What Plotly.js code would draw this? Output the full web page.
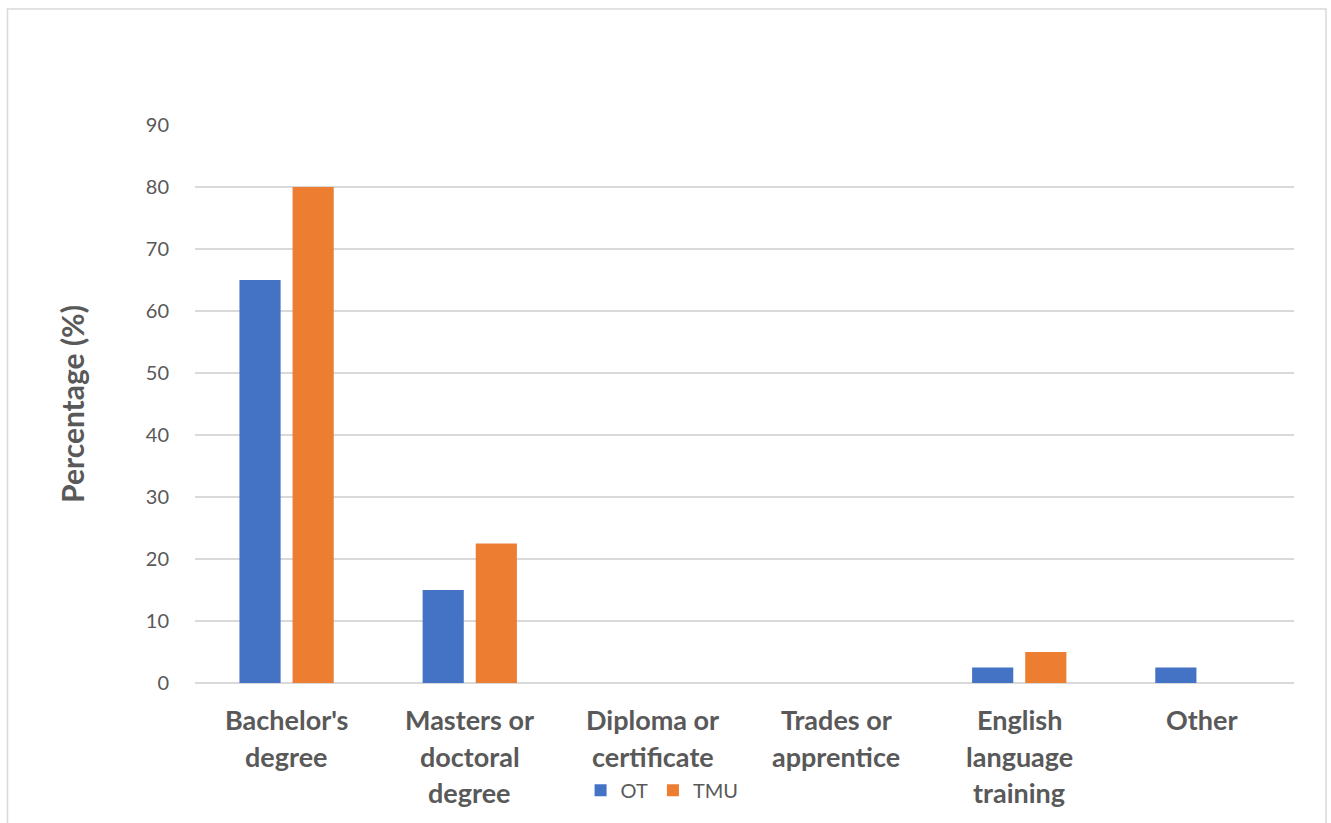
<!DOCTYPE html>
<html>
<head>
<meta charset="utf-8">
<script src="https://cdn.plot.ly/plotly-3.0.1.min.js"></script>
<style>
  html, body { margin: 0; padding: 0; background: #ffffff; }
  #chart { width: 1331px; height: 823px; }
</style>
</head>
<body>
<div id="chart"></div>
<script>
// Education categories (one entry per bar group) and the wrapped label lines
const categories = [
  "Bachelor's degree",
  "Masters or doctoral degree",
  "Diploma or certificate",
  "Trades or apprentice",
  "English language training",
  "Other"
];
const labelLines = [
  ["Bachelor's", "degree"],
  ["Masters or", "doctoral", "degree"],
  ["Diploma or", "certificate"],
  ["Trades or", "apprentice"],
  ["English", "language", "training"],
  ["Other"]
];

// Percentages per group
const otValues  = [65, 15, 0, 0, 2.5, 2.5];
const tmuValues = [80, 22.5, 0, 0, 5, 0];

const seriesNames = ["OT", "TMU"];
const yTicks = [0, 10, 20, 30, 40, 50, 60, 70, 80, 90];

const textColor = "#595959";
const gridColor = "#D9D9D9";

const traces = [
  {
    type: "bar",
    name: seriesNames[0],
    x: categories,
    y: otValues,
    marker: { color: "#4472C4" },
    hoverinfo: "x+y+name"
  },
  {
    type: "bar",
    name: seriesNames[1],
    x: categories,
    y: tmuValues,
    marker: { color: "#ED7D31" },
    hoverinfo: "x+y+name"
  }
];

// Wrapped category labels, one annotation per line
const lineTops = [-0.066, -0.131, -0.196];
const annotations = [];
labelLines.forEach((lines, i) => {
  lines.forEach((line, j) => {
    annotations.push({
      x: categories[i],
      xref: "x",
      y: lineTops[j],
      yref: "paper",
      yanchor: "middle",
      xanchor: "center",
      text: line,
      showarrow: false,
      font: { family: "Lato, sans-serif", size: 27, color: textColor, weight: 700 }
    });
  });
});

const layout = {
  width: 1331,
  height: 823,
  paper_bgcolor: "#ffffff",
  plot_bgcolor: "#ffffff",
  margin: { l: 195, r: 37, t: 125, b: 140 },
  barmode: "group",
  bargap: 0.42,
  bargroupgap: 0.225,
  font: { family: "Lato, sans-serif", color: textColor },
  xaxis: {
    type: "category",
    showticklabels: false,
    showgrid: false,
    zeroline: false,
    showline: false,
    ticks: ""
  },
  yaxis: {
    range: [0, 90],
    tickvals: yTicks,
    showgrid: true,
    gridcolor: gridColor,
    gridwidth: 1.5,
    zeroline: true,
    zerolinecolor: gridColor,
    zerolinewidth: 1.5,
    showline: false,
    ticks: "outside",
    ticklen: 21,
    tickcolor: "rgba(0,0,0,0)",
    tickfont: { family: "Lato, sans-serif", size: 20, color: textColor },
    title: {
      text: "Percentage (%)",
      standoff: 52,
      font: { family: "Lato, sans-serif", size: 30, color: textColor, weight: 700 }
    },
    automargin: false
  },
  showlegend: true,
  legend: {
    orientation: "h",
    x: 0.425,
    xanchor: "center",
    y: -0.192,
    yanchor: "middle",
    font: { family: "Lato, sans-serif", size: 20, color: textColor },
    itemwidth: 30,
    bgcolor: "rgba(0,0,0,0)"
  },
  annotations: annotations,
  shapes: [
    {
      type: "rect",
      xref: "paper",
      yref: "paper",
      x0: -0.1706,
      x1: 1.0291,
      y0: -0.27,
      y1: 1.2079,
      line: { color: "#D9D9D9", width: 1.5 },
      fillcolor: "rgba(0,0,0,0)",
      layer: "below"
    }
  ]
};

Plotly.newPlot("chart", traces, layout, { displayModeBar: false, staticPlot: true });
</script>
</body>
</html>
